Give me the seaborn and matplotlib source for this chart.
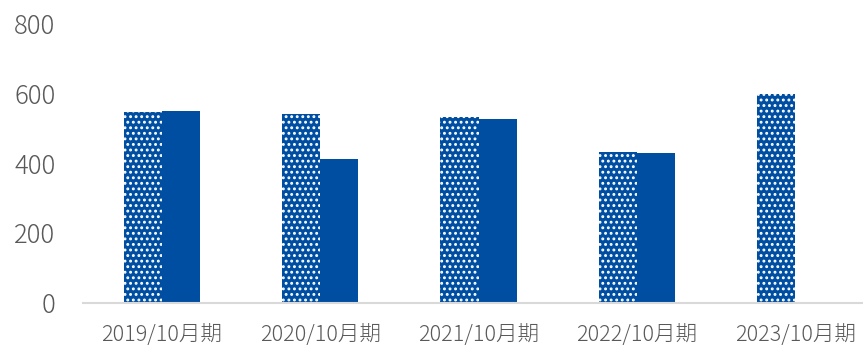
import numpy as np
import pandas as pd
import matplotlib
matplotlib.use("Agg")
import matplotlib.pyplot as plt
import seaborn as sns

# Fiscal periods and values (two series per period)
periods = ["2019/10月期", "2020/10月期", "2021/10月期", "2022/10月期", "2023/10月期"]
forecast = [548, 542, 533, 431, 599]
actual = [550, 413, 526, 429, np.nan]
series_names = ["予想", "実績"]
y_ticks = [0, 200, 400, 600, 800]

blue = "#004EA2"
text_gray = "#595959"
axis_gray = "#D9D9D9"

df = pd.DataFrame({
    "期": periods * 2,
    "系列": [series_names[0]] * len(periods) + [series_names[1]] * len(periods),
    "値": forecast + actual,
})

sns.set_theme(style="white")
plt.rcParams["font.family"] = ["Noto Sans CJK JP", "DejaVu Sans"]
plt.rcParams["hatch.linewidth"] = 1.3

fig = plt.figure(figsize=(8.63, 3.45), dpi=100)
ax = fig.add_axes([82.5 / 863, 42.3 / 345, 792 / 863, 278.8 / 345])

sns.barplot(
    data=df, x="期", y="値", hue="系列", order=periods, hue_order=series_names,
    palette=[blue, blue], width=0.48, gap=0, errorbar=None, legend=False,
    saturation=1, ax=ax,
)

# Dotted fill for the forecast bars
n = len(periods)
for i, patch in enumerate(ax.patches):
    patch.set_linewidth(0)
    if i < n:
        patch.set_hatch("...")
        patch.set_edgecolor("white")

ax.set_ylim(0, 800)
ax.set_yticks(y_ticks)
ax.set_xlim(-0.5, n - 0.5)
ax.set_xlabel("")
ax.set_ylabel("")

for side in ["top", "right", "left"]:
    ax.spines[side].set_visible(False)
ax.spines["bottom"].set_color(axis_gray)
ax.spines["bottom"].set_linewidth(1.5)

ax.tick_params(axis="y", length=0, pad=19.5, labelsize=18.5, labelcolor=text_gray)
ax.tick_params(axis="x", length=0, pad=15.5, labelsize=15.5, labelcolor=text_gray)
for lab in ax.get_yticklabels() + ax.get_xticklabels():
    lab.set_fontweight("light")

fig.savefig("out.png", dpi=100)
